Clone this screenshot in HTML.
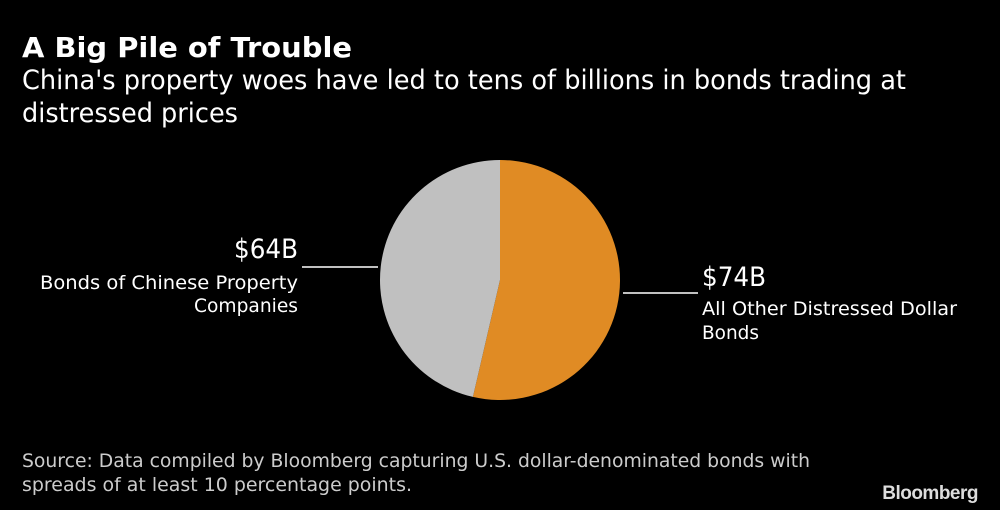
<!DOCTYPE html>
<html><head><meta charset="utf-8"><style>
html,body{margin:0;padding:0;background:#000;}
svg{display:block;font-family:"DejaVu Sans","Liberation Sans",sans-serif;}
</style></head><body>
<svg width="1000" height="510" viewBox="0 0 1000 510">
<rect width="1000" height="510" fill="#000"/>
<text x="22" y="57" fill="#fff" font-size="28" font-weight="bold" textLength="330" lengthAdjust="spacingAndGlyphs">A Big Pile of Trouble</text>
<text x="22" y="89" fill="#fff" font-size="27" textLength="884" lengthAdjust="spacingAndGlyphs">China's property woes have led to tens of billions in bonds trading at</text>
<text x="22" y="122" fill="#fff" font-size="27" textLength="216" lengthAdjust="spacingAndGlyphs">distressed prices</text>
<g id="pie"></g>
<line x1="302" y1="267" x2="378" y2="267" stroke="#fff" stroke-width="1.5"/>
<line x1="623" y1="293" x2="698" y2="293" stroke="#fff" stroke-width="1.5"/>
<text id="v0" x="298" y="258" fill="#fff" font-size="27" text-anchor="end" textLength="64" lengthAdjust="spacingAndGlyphs">$64B</text>
<text x="298" y="289" fill="#fff" font-size="19" text-anchor="end" textLength="258" lengthAdjust="spacingAndGlyphs">Bonds of Chinese Property</text>
<text x="298" y="312" fill="#fff" font-size="19" text-anchor="end" textLength="104" lengthAdjust="spacingAndGlyphs">Companies</text>
<text id="v1" x="702" y="286" fill="#fff" font-size="27" textLength="64" lengthAdjust="spacingAndGlyphs">$74B</text>
<text x="702" y="315" fill="#fff" font-size="19" textLength="255" lengthAdjust="spacingAndGlyphs">All Other Distressed Dollar</text>
<text x="702" y="339" fill="#fff" font-size="19" textLength="57" lengthAdjust="spacingAndGlyphs">Bonds</text>
<text x="22" y="467" fill="#ccc" font-size="19" textLength="788" lengthAdjust="spacingAndGlyphs">Source: Data compiled by Bloomberg capturing U.S. dollar-denominated bonds with</text>
<text x="22" y="491" fill="#ccc" font-size="19" textLength="390" lengthAdjust="spacingAndGlyphs">spreads of at least 10 percentage points.</text>
<text x="978" y="499" fill="#ddd" font-size="19" font-weight="bold" text-anchor="end" font-family="Liberation Sans, sans-serif" letter-spacing="-0.5">Bloomberg</text>
</svg>
<script>
const categories = ["All Other Distressed Dollar Bonds", "Bonds of Chinese Property Companies"];
const values = [74, 64];
const colors = ["#e08b24", "#c0c0c0"];
const cx = 500, cy = 280, r = 120;
const total = values.reduce((a,b)=>a+b,0);
const g = document.getElementById('pie');
let start = 0;
function pt(a){return [cx + r*Math.sin(a), cy - r*Math.cos(a)];}
values.forEach((v,i)=>{
  const ang = v/total*2*Math.PI;
  const [x1,y1] = pt(start), [x2,y2] = pt(start+ang);
  const p = document.createElementNS('http://www.w3.org/2000/svg','path');
  p.setAttribute('d', `M${cx},${cy} L${x1},${y1} A${r},${r} 0 ${ang>Math.PI?1:0} 1 ${x2},${y2} Z`);
  p.setAttribute('fill', colors[i]);
  
  
  g.appendChild(p);
  start += ang;
});
document.getElementById('v0').textContent = '$' + values[1] + 'B';
document.getElementById('v1').textContent = '$' + values[0] + 'B';
</script>
</body></html>
